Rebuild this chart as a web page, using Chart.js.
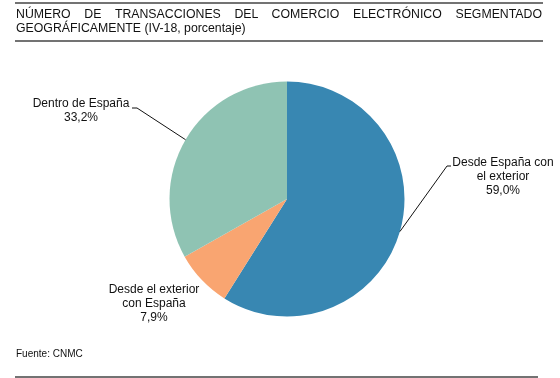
<!DOCTYPE html>
<html>
<head>
<meta charset="utf-8">
<script src="https://cdn.jsdelivr.net/npm/chart.js@4"></script>
<style>
    body { margin: 0; background: #fff; font-family: "Liberation Sans", Arial, sans-serif; }
    #wrap { position: relative; width: 560px; height: 378px; }
    #chart { position: absolute; left: 0; top: 0; }
    .rule { position: absolute; left: 15px; height: 2px; background: #737373; }
    .title { position: absolute; left: 16px; width: 526px; font-size: 12.3px; line-height: 14px; color: #111; }
    .just { text-align: justify; text-align-last: justify; }
    .src { position: absolute; left: 16px; top: 348px; font-size: 10px; color: #111; }
</style>
</head>
<body>
<div id="wrap">
    <canvas id="chart" width="560" height="378"></canvas>
    <div class="rule" style="top:2px; width:528px;"></div>
    <div class="title just" style="top:7px;">NÚMERO DE TRANSACCIONES DEL COMERCIO ELECTRÓNICO SEGMENTADO</div>
    <div class="title" style="top:21px;">GEOGRÁFICAMENTE (IV-18, porcentaje)</div>
    <div class="rule" style="top:40px; width:528px;"></div>
    <div class="src">Fuente: CNMC</div>
    <div class="rule" style="top:376px; width:523px;"></div>
</div>
<script>
// Data
const categories = [
    ['Desde España con', 'el exterior'],
    ['Desde el exterior', 'con España'],
    ['Dentro de España']
];
const shares = [59.0, 7.9, 33.2];
const sliceColors = ['#3887b2', '#f9a571', '#8fc3b3'];

// label placement (first line centre) and leader tick, per slice
const labelSpots = [
    { x: 503, y: 163, tick: [451, 166, 447, 166] },
    { x: 154, y: 290, tick: null },
    { x: 81, y: 104, tick: [132, 108, 137, 108] }
];

const pieLabels = {
    id: 'pieLabels',
    afterDatasetsDraw(chart) {
        const ctx = chart.ctx;
        const meta = chart.getDatasetMeta(0);
        ctx.save();
        ctx.font = '12px "Liberation Sans", Arial, sans-serif';
        ctx.fillStyle = '#111';
        ctx.textAlign = 'center';
        ctx.textBaseline = 'middle';
        meta.data.forEach((arc, i) => {
            const spot = labelSpots[i];
            const lines = categories[i].concat([shares[i].toFixed(1).replace('.', ',') + '%']);
            lines.forEach((t, k) => ctx.fillText(t, spot.x, spot.y + k * 14));

            if (spot.tick) {
                // leader goes to the middle of the slice's outer edge
                const mid = (arc.startAngle + arc.endAngle) / 2;
                const ex = arc.x + Math.cos(mid) * arc.outerRadius;
                const ey = arc.y + Math.sin(mid) * arc.outerRadius;
                ctx.beginPath();
                ctx.strokeStyle = '#111';
                ctx.lineWidth = 1;
                ctx.moveTo(spot.tick[0], spot.tick[1]);
                ctx.lineTo(spot.tick[2], spot.tick[3]);
                ctx.lineTo(ex, ey);
                ctx.stroke();
            }
        });
        ctx.restore();
    }
};

new Chart(document.getElementById('chart'), {
    type: 'pie',
    data: {
        labels: categories.map(c => c.join(' ')),
        datasets: [{
            data: shares,
            backgroundColor: sliceColors,
            borderWidth: 0
        }]
    },
    options: {
        responsive: false,
        animation: false,
        layout: { padding: { left: 169.5, right: 155.5, top: 81.5, bottom: 61.5 } },
        plugins: {
            legend: { display: false },
            tooltip: { enabled: false }
        }
    },
    plugins: [pieLabels]
});
</script>
</body>
</html>
